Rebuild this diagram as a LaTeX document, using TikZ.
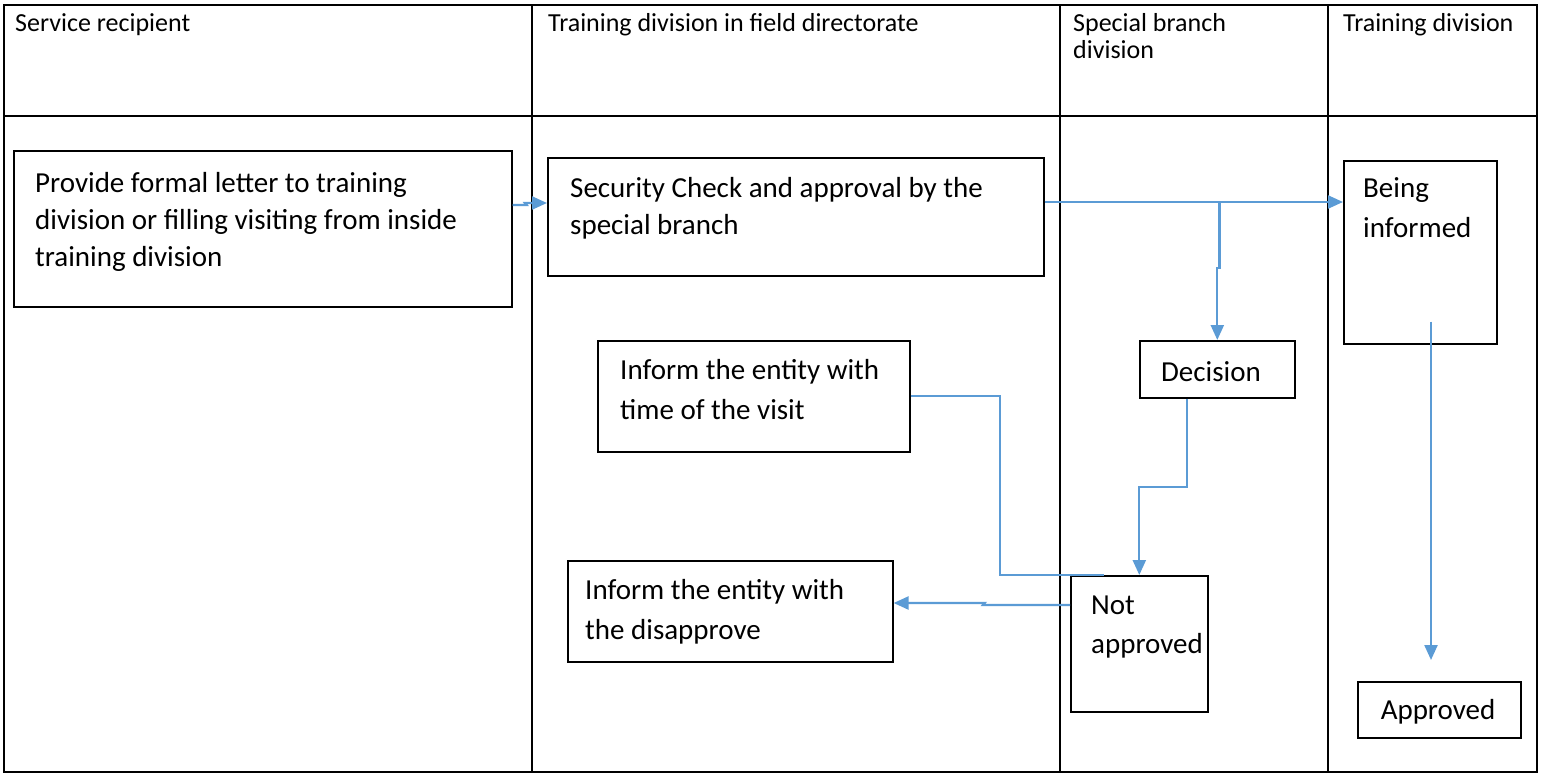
\documentclass[tikz,border=0pt]{standalone}
\usepackage{fontspec}
\setmainfont{Carlito}
\usetikzlibrary{arrows.meta,calc}
\definecolor{flowblue}{HTML}{5B9BD5}
\begin{document}
\begin{tikzpicture}[x=1pt,y=-1pt,
  lane/.style={line width=2pt},
  box/.style={draw, line width=1.6pt, anchor=north west, inner sep=0pt},
  % multi-line nodes are placed by the baseline of their last line
  head/.style={anchor=base west, inner sep=0pt, align=left, font=\fontsize{26}{27}\selectfont},
  body/.style={anchor=base west, inner sep=0pt, align=left, font=\fontsize{29}{37}\selectfont},
  flow/.style={draw=flowblue, line width=2.3pt},
  tip/.style={-{Triangle[length=15pt,width=13pt]}}
]
\useasboundingbox (0,0) rectangle (1541,776);

% swimlane table
\draw[lane] (4,5) rectangle (1537,772);
\draw[lane] (4,116) -- (1537,116);
\draw[lane] (532,5) -- (532,772);
\draw[lane] (1060,5) -- (1060,772);
\draw[lane] (1328,5) -- (1328,772);

% lane headings
\node[head] (h1) at (15,32) {Service recipient};
\node[head] (h2) at (548,32) {Training division in field directorate};
\node[head] (h3) at (1073,59) {Special branch\\division};
\node[head] (h4) at (1343,32) {Training division};

% process boxes
\node[box, minimum width=498pt, minimum height=156pt] (letter) at (13,150) {};
\node[box, minimum width=496pt, minimum height=118pt] (check) at (547,157) {};
\node[box, minimum width=153pt, minimum height=183pt] (informed) at (1343,160) {};
\node[box, minimum width=155pt, minimum height=57pt] (decision) at (1139,340) {};
\node[box, minimum width=312pt, minimum height=111pt] (time) at (597,340) {};
\node[box, minimum width=325pt, minimum height=101pt] (disapp) at (567,560) {};
\node[box, minimum width=137pt, minimum height=136pt] (notappr) at (1070,575) {};
\node[box, minimum width=163pt, minimum height=56pt] (approved) at (1357,681) {};

% box texts
\node[body] (t1) at (35,266) {Provide formal letter to training\\division or filling visiting from inside\\training division};
\node[body] (t2) at (570,234) {Security Check and approval by the\\special branch};
\node[body, font=\fontsize{29}{40}\selectfont] (t3) at (1363,237) {Being\\informed};
\node[body, anchor=base] (t4) at (1211,381) {Decision};
\node[body, font=\fontsize{29}{40}\selectfont] (t5) at (620,419) {Inform the entity with\\time of the visit};
\node[body, font=\fontsize{29}{40}\selectfont] (t6) at (585,639) {Inform the entity with\\the disapprove};
\node[body, font=\fontsize{29}{39}\selectfont] (t7) at (1091,653) {Not\\approved};
\node[body, anchor=base] (t8) at (1438,719) {Approved};

% connectors
\coordinate (a0) at ($(letter.north east)+(0,55)$);
\coordinate (a1) at ($(check.north west)+(0,46)$);
\draw[flow,tip] (a0) -- ($(a0)+(14,0)$) -- ($(a1)+(-22,0)$) -- (a1);

\coordinate (b0) at ($(check.north east)+(0,45)$);
\coordinate (b1) at ($(informed.north west)+(0,42)$);
\draw[flow,tip] (b0) -- (b1);

\coordinate (c0) at ($(b0)+(175,0)$);
\draw[flow,tip] (c0) -- ($(c0)+(0,66)$) -- ($(decision.north)+(0,-72)$) -- (decision.north);

\coordinate (d0) at ($(decision.south west)+(48,0)$);
\draw[flow,tip] (d0) |- ($(notappr.north)+(0,-88)$) -- (notappr.north);

\draw[flow] (time.east) -| ($(notappr.north west)+(-70,0)$) -- ($(notappr.north west)+(34,0)$);

\coordinate (e0) at ($(notappr.north west)+(0,30)$);
\coordinate (e1) at ($(disapp.north east)+(0,43)$);
\draw[flow,tip] (e0) -- ($(e0)+(-87,0)$) -- ($(e1)+(91,0)$) -- (e1);

\coordinate (f0) at ($(informed.south west)+(88,-23)$);
\coordinate (f1) at ($(approved.north west)+(74,-21)$);
\draw[flow,tip] (f0) -- (f1);
\end{tikzpicture}
\end{document}
